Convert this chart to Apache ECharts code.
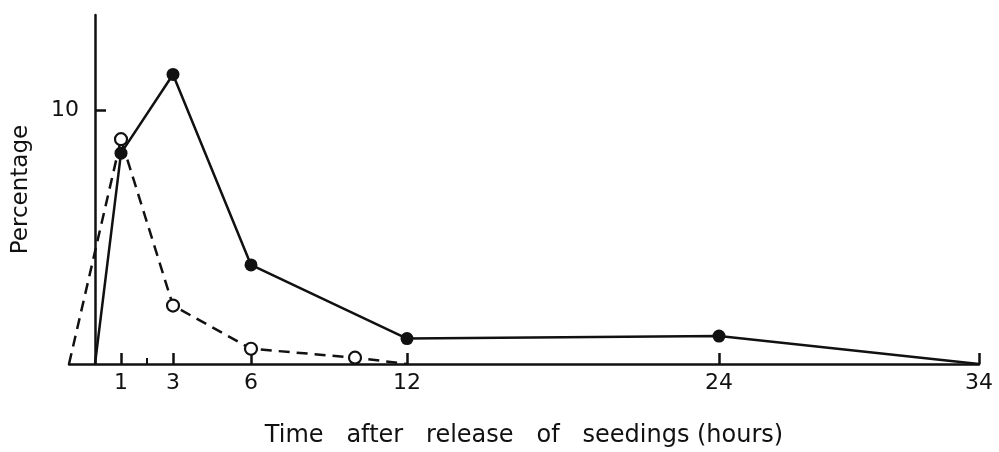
<!DOCTYPE html>
<html>
<head>
<meta charset="utf-8">
<script src="https://cdn.jsdelivr.net/npm/echarts@6/dist/echarts.min.js"></script>
<style>html,body{margin:0;padding:0;background:#fff}#c{width:999px;height:452px}</style>
</head>
<body>
<div id="c"></div>
<script>
// Time after release (hours) and percentage values
const solidTimes = [0, 1, 3, 6, 12, 24, 34];
const solidValues = [0, 8.3, 11.4, 3.9, 1.0, 1.1, 0];
const dashedTimes = [-1, 1, 3, 6, 10, 12];
const dashedValues = [0, 8.85, 2.3, 0.6, 0.25, 0];
const xTickValues = [1, 3, 6, 12, 24, 34];
const xMinorTickValues = [2];
const yTickValues = [10];
const solidMarked = [false, true, true, true, true, true, false];
const dashedMarked = [false, true, true, true, true, false];

const FONT = 'DejaVu Sans';
const chart = echarts.init(document.getElementById('c'), null, {renderer: 'canvas'});

function pts(xs, ys) { return xs.map((x, i) => [x, ys[i]]); }

chart.setOption({
  animation: false,
  backgroundColor: '#fff',
  grid: {left: 69, right: 20, top: 15, bottom: 88, outerBoundsMode: 'none', containLabel: false},
  xAxis: [{
    type: 'value', min: -1, max: 34,
    name: 'Time   after   release   of   seedings (hours)',
    nameLocation: 'middle', nameGap: 60,
    nameTextStyle: {fontFamily: FONT, fontSize: 24, color: '#111'},
    axisLine: {onZero: false, lineStyle: {color: '#111', width: 2.5}},
    axisTick: {inside: true, length: 11, customValues: xTickValues, lineStyle: {color: '#111', width: 2.5}},
    axisLabel: {customValues: xTickValues, margin: 8, fontFamily: FONT, fontSize: 22, color: '#111'},
    splitLine: {show: false}
  }, {
    type: 'value', min: -1, max: 34, position: 'bottom',
    axisLine: {show: false},
    axisTick: {inside: true, length: 6, customValues: xMinorTickValues, lineStyle: {color: '#111', width: 2}},
    axisLabel: {show: false},
    splitLine: {show: false}
  }],
  yAxis: {
    type: 'value', min: 0, max: 13.74,
    offset: -26,
    name: 'Percentage', nameLocation: 'middle', nameGap: 62,
    nameTextStyle: {fontFamily: FONT, fontSize: 23, color: '#111'},
    axisLine: {show: true, onZero: false, lineStyle: {color: '#111', width: 2.5}},
    axisTick: {inside: true, length: 11, customValues: yTickValues, lineStyle: {color: '#111', width: 2.5}},
    axisLabel: {customValues: yTickValues, margin: 16, fontFamily: FONT, fontSize: 22, color: '#111'},
    splitLine: {show: false}
  },
  series: [{
    type: 'line',
    data: pts(dashedTimes, dashedValues).map((p, i) => ({value: p, symbolSize: dashedMarked[i] ? 12 : 0})),
    symbol: 'circle',
    lineStyle: {color: '#111', width: 2.5, type: [11, 7]},
    itemStyle: {color: '#fff', borderColor: '#111', borderWidth: 2.2},
    z: 3
  }, {
    type: 'line',
    data: pts(solidTimes, solidValues).map((p, i) => ({value: p, symbolSize: solidMarked[i] ? 13 : 0})),
    symbol: 'circle',
    lineStyle: {color: '#111', width: 2.5},
    itemStyle: {color: '#111', borderColor: '#111', borderWidth: 0},
    z: 2
  }]
});
</script>
</body>
</html>
